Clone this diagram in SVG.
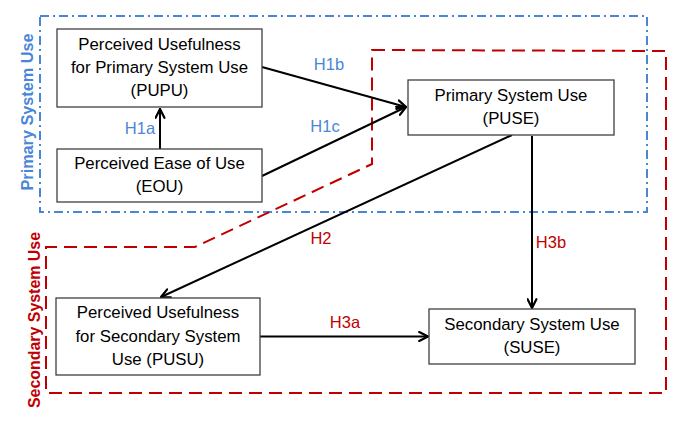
<svg xmlns="http://www.w3.org/2000/svg" width="686" height="422" viewBox="0 0 686 422">
<style>
  .box { fill: #ffffff; stroke: #404040; stroke-width: 1.3; }
  .t { font-family: "Liberation Sans", Arial, sans-serif; font-size: 16.8px; fill: #000000; text-anchor: middle; }
  .lb { font-family: "Liberation Sans", Arial, sans-serif; font-size: 16.5px; fill: #4a86d8; text-anchor: middle; }
  .lr { font-family: "Liberation Sans", Arial, sans-serif; font-size: 16.5px; fill: #c00000; text-anchor: middle; }
  .vt { font-family: "Liberation Sans", Arial, sans-serif; font-size: 16px; font-weight: bold; text-anchor: middle; }
  .conn { fill: none; stroke: #000000; stroke-width: 2; marker-end: url(#ah); }
</style>
<defs>
  <marker id="ah" viewBox="0 0 10 10" refX="9" refY="5" markerWidth="5.5" markerHeight="5.5" orient="auto" markerUnits="strokeWidth">
    <path d="M1,1 L9,5 L1,9" fill="none" stroke="#000000" stroke-width="2" stroke-linecap="round" stroke-linejoin="miter"/>
  </marker>
</defs>
<rect width="686" height="422" fill="#ffffff"/>

<g id="groups">
  <rect x="40" y="16" width="607" height="196" fill="none" stroke="#4a86d8" stroke-width="2" stroke-dasharray="9 4 2 4"/>
  <path d="M372,50 L666,51 L666,393 L46,393 L46,247 L195,247 L372,164 Z" fill="none" stroke="#c00000" stroke-width="2" stroke-dasharray="13 7"/>
  <text class="vt" fill="#4a86d8" transform="translate(33,112) rotate(-90)" textLength="157" lengthAdjust="spacingAndGlyphs">Primary System Use</text>
  <text class="vt" fill="#c00000" transform="translate(40,320) rotate(-90)" textLength="176" lengthAdjust="spacingAndGlyphs">Secondary System Use</text>
</g>

<g id="connectors">
  <line class="conn" x1="160" y1="149" x2="160" y2="109"/>
  <line class="conn" x1="262" y1="67" x2="406" y2="107"/>
  <line class="conn" x1="262" y1="176" x2="406" y2="107"/>
  <line class="conn" x1="512" y1="135" x2="161" y2="297"/>
  <line class="conn" x1="532" y1="136" x2="532" y2="308"/>
  <line class="conn" x1="260" y1="336.5" x2="428" y2="336.5"/>
  <text class="lb" x="140" y="134">H1a</text>
  <text class="lb" x="329" y="70">H1b</text>
  <text class="lb" x="325" y="132">H1c</text>
  <text class="lr" x="321" y="244">H2</text>
  <text class="lr" x="345" y="328">H3a</text>
  <text class="lr" x="551" y="248">H3b</text>
</g>

<g id="PUPU">
  <rect class="box" x="57" y="29" width="205" height="78"/>
  <text class="t" x="159.5" y="50">Perceived Usefulness</text>
  <text class="t" x="159.5" y="73">for Primary System Use</text>
  <text class="t" x="159.5" y="96">(PUPU)</text>
</g>
<g id="EOU">
  <rect class="box" x="57" y="149" width="205" height="53"/>
  <text class="t" x="159.5" y="169">Perceived Ease of Use</text>
  <text class="t" x="159.5" y="192">(EOU)</text>
</g>
<g id="PUSE">
  <rect class="box" x="408" y="80" width="206" height="55"/>
  <text class="t" x="511" y="101">Primary System Use</text>
  <text class="t" x="511" y="124">(PUSE)</text>
</g>
<g id="PUSU">
  <rect class="box" x="56" y="298" width="204" height="77"/>
  <text class="t" x="158" y="318">Perceived Usefulness</text>
  <text class="t" x="158" y="342">for Secondary System</text>
  <text class="t" x="158" y="365">Use (PUSU)</text>
</g>
<g id="SUSE">
  <rect class="box" x="429" y="309" width="206" height="55"/>
  <text class="t" x="532" y="330">Secondary System Use</text>
  <text class="t" x="532" y="353">(SUSE)</text>
</g>
</svg>
